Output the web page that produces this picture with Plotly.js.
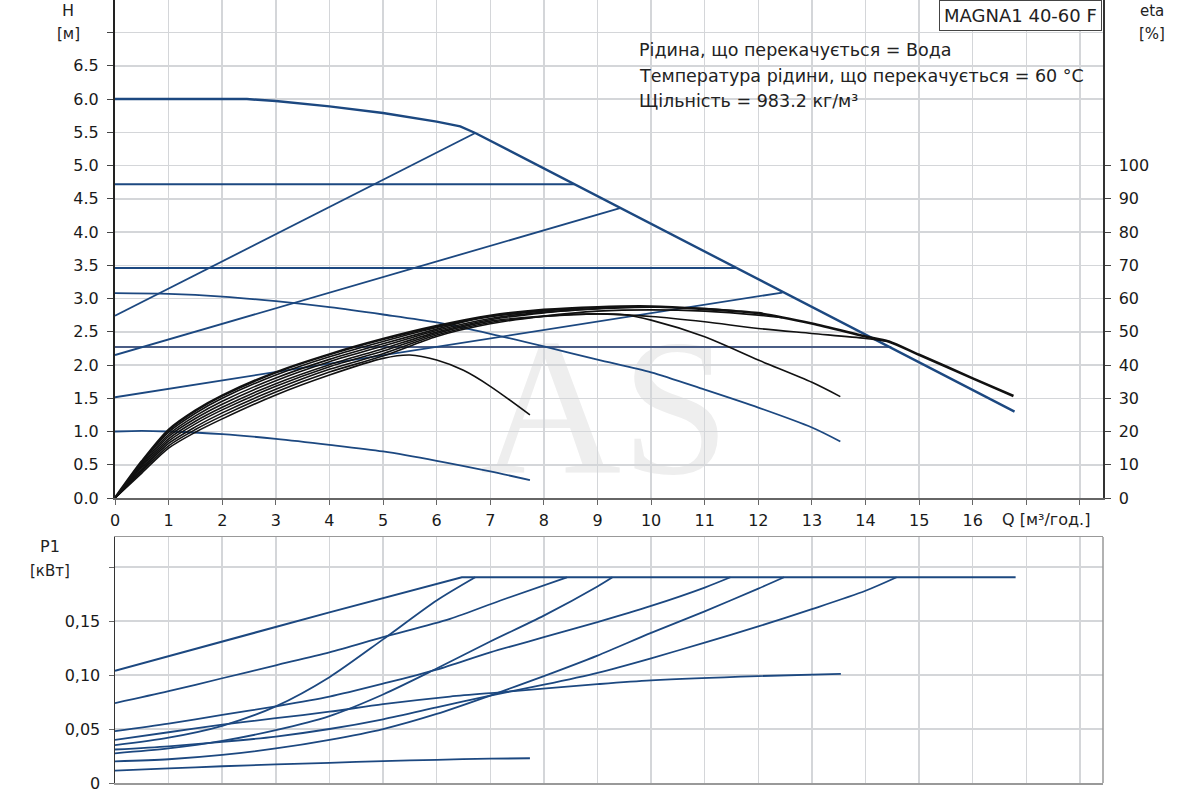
<!DOCTYPE html>
<html>
<head>
<meta charset="utf-8">
<script src="https://cdn.plot.ly/plotly-3.0.1.min.js"></script>
<style>
  html, body { margin: 0; padding: 0; background: #fff; }
  #chart { width: 1200px; height: 800px; }
</style>
</head>
<body>
<div id="chart"></div>
<script>
// ---- H [м] curves (blue) ----
const maxQ = [0, 2.46, 3, 4, 5, 5.32, 6, 6.44, 6.72, 16.78];
const maxH = [6.0, 6.0, 5.97, 5.89, 5.79, 5.75, 5.66, 5.59, 5.49, 1.30];

const cp1Q = [0, 8.57];   const cp1H = [4.72, 4.72];
const cp2Q = [0, 11.59];  const cp2H = [3.46, 3.46];
const cp3Q = [0, 14.48];  const cp3H = [2.27, 2.27];

const pp1Q = [0, 6.72];   const pp1H = [2.74, 5.49];
const pp2Q = [0, 9.42];   const pp2H = [2.15, 4.36];
const pp3Q = [0, 12.45];  const pp3H = [1.515, 3.09];

const cc1Q = [0, 1, 2, 3, 4, 5, 6, 7, 8, 9, 10, 11, 12, 13, 13.53];
const cc1H = [3.08, 3.07, 3.03, 2.96, 2.87, 2.76, 2.64, 2.47, 2.28, 2.08, 1.89, 1.63, 1.36, 1.06, 0.85];
const cc2Q = [0, 0.5, 1, 2, 3, 4, 5, 6, 7, 7.74];
const cc2H = [1.0, 1.01, 1.0, 0.96, 0.89, 0.80, 0.70, 0.56, 0.40, 0.27];

// ---- eta [%] curves (black) ----
const etaMaxQ = [0, 0.5, 1, 1.5, 2, 3, 4, 5, 6, 7, 8, 9, 10, 11, 12, 13, 14, 14.43, 15, 16, 16.76];
const etaMax  = [0, 11, 20.5, 26.3, 30.8, 37.8, 43.2, 47.8, 51.7, 54.8, 56.6, 57.4, 57.6, 56.8, 55.6, 52.5, 48.6, 47.1, 43.1, 36.0, 30.7];
const etaCp1Q = [0, 0.5, 1, 1.5, 2, 3, 4, 5, 6, 7, 8, 8.57];
const etaCp1  = [0, 10.6, 19.8, 25.5, 30.0, 37.0, 42.5, 47.1, 51.3, 54.5, 56.3, 56.9];
const etaPp1Q = [0, 0.5, 1, 1.5, 2, 3, 4, 5, 6, 6.72];
const etaPp1  = [0, 10.1, 19.1, 24.7, 29.1, 36.1, 41.7, 46.4, 50.8, 53.9];
const etaCp2Q = [0, 0.5, 1, 1.5, 2, 3, 4, 5, 6, 7, 8, 9, 10, 11, 11.59];
const etaCp2  = [0, 9.7, 18.5, 23.9, 28.2, 35.3, 41.0, 45.7, 50.4, 54.0, 55.9, 56.9, 57.4, 57.0, 56.3];
const etaPp2Q = [0, 0.5, 1, 1.5, 2, 3, 4, 5, 6, 7, 8, 9, 9.42];
const etaPp2  = [0, 9.3, 17.8, 23.1, 27.3, 34.4, 40.1, 44.9, 49.9, 53.6, 55.7, 57.0, 57.5];
const etaCc1Q = [0, 0.5, 1, 1.5, 2, 3, 4, 5, 6, 7, 8, 9, 9.5, 10, 11, 12, 13, 13.53];
const etaCc1  = [0, 8.8, 17.1, 22.3, 26.5, 33.6, 39.5, 44.2, 49.5, 53.2, 54.7, 55.4, 55.1, 53.5, 48.5, 41.5, 34.8, 30.5];
const etaCp3Q = [0, 0.5, 1, 1.5, 2, 3, 4, 5, 6, 7, 8, 9, 10, 11, 12, 13, 14, 14.48];
const etaCp3  = [0, 8.4, 16.4, 21.4, 25.6, 32.7, 38.7, 43.4, 49.0, 52.8, 54.6, 55.4, 54.6, 53.0, 51.0, 49.5, 48.0, 47.0];
const etaPp3Q = [0, 0.5, 1, 1.5, 2, 3, 4, 5, 6, 7, 8, 9, 10, 11, 12, 12.45];
const etaPp3  = [0, 8.0, 15.7, 20.6, 24.7, 31.9, 37.9, 42.7, 48.6, 52.4, 54.7, 56.2, 56.6, 56.2, 55.0, 54.2];
const etaCc2Q = [0, 0.5, 1, 1.5, 2, 3, 4, 5, 5.5, 6, 6.5, 7, 7.74];
const etaCc2  = [0, 7.5, 15, 19.8, 23.8, 31, 37, 42, 43, 41.5, 38.4, 33.6, 25];

// ---- P1 [кВт] curves (blue) ----
const pMaxQ = [0, 2, 4, 6.47, 16.8];
const pMax  = [0.104, 0.131, 0.158, 0.1905, 0.1905];
const pPp1Q = [0, 1, 2, 3, 4, 5, 6, 6.72];
const pPp1  = [0.035, 0.042, 0.053, 0.071, 0.098, 0.133, 0.169, 0.1905];
const pCp1Q = [0, 1, 2, 3, 4, 5, 6.25, 7.19, 8.43];
const pCp1  = [0.074, 0.085, 0.097, 0.109, 0.121, 0.135, 0.152, 0.169, 0.1905];
const pPp2Q = [0, 1, 2, 3, 4, 5, 6, 7, 8, 9, 9.28];
const pPp2  = [0.0275, 0.032, 0.039, 0.049, 0.062, 0.082, 0.106, 0.131, 0.155, 0.182, 0.1905];
const pCp2Q = [0, 1, 2, 3, 4, 5, 6, 7, 8, 9, 10, 11, 11.48];
const pCp2  = [0.048, 0.055, 0.063, 0.071, 0.080, 0.092, 0.105, 0.121, 0.135, 0.149, 0.164, 0.181, 0.1905];
const pPp3Q = [0, 1, 2, 3, 4, 5, 6, 7, 8, 9, 10, 11, 12, 12.48];
const pPp3  = [0.020, 0.022, 0.026, 0.032, 0.040, 0.050, 0.064, 0.081, 0.099, 0.118, 0.139, 0.159, 0.180, 0.1905];
const pCp3Q = [0, 1, 2, 3, 4, 5, 6, 7, 8, 9, 10, 11, 12, 13, 14, 14.58];
const pCp3  = [0.031, 0.034, 0.038, 0.043, 0.050, 0.059, 0.070, 0.081, 0.091, 0.102, 0.1155, 0.130, 0.145, 0.161, 0.178, 0.1905];
const pCc1Q = [0, 1, 2, 3, 4, 5, 6.25, 7.19, 9, 10, 12, 13.54];
const pCc1  = [0.040, 0.047, 0.054, 0.060, 0.066, 0.073, 0.080, 0.084, 0.0915, 0.095, 0.099, 0.101];
const pCc2Q = [0, 1, 2, 3, 4, 5, 6, 7, 7.74];
const pCc2  = [0.0114, 0.0135, 0.0155, 0.0172, 0.0187, 0.0203, 0.0215, 0.0225, 0.0229];

// ---- ticks / labels ----
const qTicks = [0, 1, 2, 3, 4, 5, 6, 7, 8, 9, 10, 11, 12, 13, 14, 15, 16, 17, 18];
const qLabels = ['0','1','2','3','4','5','6','7','8','9','10','11','12','13','14','15','16','',''];
const hTicks = [0, 0.5, 1, 1.5, 2, 2.5, 3, 3.5, 4, 4.5, 5, 5.5, 6, 6.5, 7];
const hLabels = ['0.0','0.5','1.0','1.5','2.0','2.5','3.0','3.5','4.0','4.5','5.0','5.5','6.0','6.5',''];
const etaTicks = [0, 10, 20, 30, 40, 50, 60, 70, 80, 90, 100];
const pTicks = [0, 0.05, 0.10, 0.15, 0.20];
const pLabels = ['0', '0,05', '0,10', '0,15', ''];
const infoLines = ['Рідина, що перекачується = Вода',
                   'Температура рідини, що перекачується = 60 °C',
                   'Щільність = 983.2 кг/м³'];

const BLUE = '#1c4880';
const FONT = 'DejaVu Sans, Verdana, sans-serif';

const W = 1200, H = 800, ML = 115, MR = 97, MT = 0, MB = 17;
const px = (x) => (x - ML) / (W - ML - MR);
const py = (y) => (H - MB - y) / (H - MT - MB);

const line = (x, y, xa, ya, color, width, shape) => ({
    x: x, y: y, xaxis: xa, yaxis: ya, type: 'scatter', mode: 'lines',
    line: { color: color, width: width, shape: shape || 'linear', smoothing: 0.8 },
    hoverinfo: 'skip', showlegend: false,
});

let series = [
    line(cp1Q, cp1H, 'x', 'y', BLUE, 2),
    line(cp2Q, cp2H, 'x', 'y', BLUE, 2),
    line(cp3Q, cp3H, 'x', 'y', '#4a5d85', 2),
    line(pp1Q, pp1H, 'x', 'y', BLUE, 1.8),
    line(pp2Q, pp2H, 'x', 'y', BLUE, 1.8),
    line(pp3Q, pp3H, 'x', 'y', BLUE, 1.8),
    line(cc1Q, cc1H, 'x', 'y', BLUE, 1.8, 'spline'),
    line(cc2Q, cc2H, 'x', 'y', BLUE, 1.8, 'spline'),
    line(maxQ, maxH, 'x', 'y', BLUE, 2.4),

    line(etaCc2Q, etaCc2, 'x', 'y2', '#111', 1.6, 'spline'),
    line(etaPp3Q, etaPp3, 'x', 'y2', '#111', 1.6, 'spline'),
    line(etaCp3Q, etaCp3, 'x', 'y2', '#111', 1.6, 'spline'),
    line(etaCc1Q, etaCc1, 'x', 'y2', '#111', 1.6, 'spline'),
    line(etaPp2Q, etaPp2, 'x', 'y2', '#111', 1.6, 'spline'),
    line(etaCp2Q, etaCp2, 'x', 'y2', '#111', 1.6, 'spline'),
    line(etaPp1Q, etaPp1, 'x', 'y2', '#111', 1.6, 'spline'),
    line(etaCp1Q, etaCp1, 'x', 'y2', '#111', 1.6, 'spline'),
    line(etaMaxQ, etaMax, 'x', 'y2', '#111', 2.6, 'spline'),

    line(pMaxQ, pMax, 'x2', 'y3', BLUE, 2),
    line(pPp1Q, pPp1, 'x2', 'y3', BLUE, 1.8, 'spline'),
    line(pCp1Q, pCp1, 'x2', 'y3', BLUE, 1.8, 'spline'),
    line(pPp2Q, pPp2, 'x2', 'y3', BLUE, 1.8, 'spline'),
    line(pCp2Q, pCp2, 'x2', 'y3', BLUE, 1.8, 'spline'),
    line(pPp3Q, pPp3, 'x2', 'y3', BLUE, 1.8, 'spline'),
    line(pCp3Q, pCp3, 'x2', 'y3', BLUE, 1.8, 'spline'),
    line(pCc1Q, pCc1, 'x2', 'y3', BLUE, 1.8, 'spline'),
    line(pCc2Q, pCc2, 'x2', 'y3', BLUE, 1.8, 'spline'),
];

const tickFont = { family: FONT, size: 16, color: '#1a1a1a' };
const GRID = '#d4d6d9';

const txt = (text, x, y, size, xanchor, extra) => Object.assign({
    text: text, xref: 'paper', yref: 'paper', x: px(x), y: py(y),
    xanchor: xanchor || 'center', yanchor: 'middle', showarrow: false,
    font: { family: FONT, size: size, color: '#222' },
}, extra || {});

let annotations = [
    txt('H', 68, 11, 16),
    txt('[м]', 68, 34, 15),
    txt('eta', 1152, 11, 15),
    txt('[%]', 1152, 34, 15),
    txt('Q [м³/год.]', 1000, 519, 16, 'left'),
    txt('P1', 50, 546, 16),
    txt('[кВт]', 50, 571, 15),
    txt('MAGNA1 40-60 F', 1102, 16, 18, 'right',
        { bgcolor: '#fff', bordercolor: '#444', borderwidth: 1, borderpad: 4 }),
];
infoLines.forEach((t, i) => annotations.push(txt(t, 637, 50 + i * 25.5, 17.5, 'left')));

let layout = {
    width: W, height: H,
    margin: { l: ML, r: MR, t: MT, b: MB, pad: 0 },
    paper_bgcolor: '#fff',
    plot_bgcolor: 'rgba(0,0,0,0)',
    showlegend: false,
    font: { family: FONT },
    xaxis: {
        domain: [0, 1], anchor: 'y', range: [0, 18.43],
        tickmode: 'array', tickvals: qTicks, ticktext: qLabels, tickfont: tickFont,
        showgrid: true, gridcolor: GRID, gridwidth: 1.5, zeroline: false,
        ticks: 'outside', ticklen: 5, tickcolor: '#666', ticklabelstandoff: 2,
        showline: true, linecolor: '#666', linewidth: 1.5, mirror: true,
    },
    yaxis: {
        domain: [py(498), 1], anchor: 'x', range: [0, 7.49],
        tickmode: 'array', tickvals: hTicks, ticktext: hLabels, tickfont: tickFont,
        showgrid: true, gridcolor: GRID, gridwidth: 1.5, zeroline: false,
        ticks: 'outside', ticklen: 6, tickcolor: '#444', ticklabelstandoff: 5,
        showline: true, linecolor: '#222', linewidth: 2,
    },
    yaxis2: {
        overlaying: 'y', side: 'right', anchor: 'x', range: [0, 149.8],
        tickmode: 'array', tickvals: etaTicks, tickfont: tickFont,
        showgrid: false, zeroline: false,
        ticks: 'outside', ticklen: 6, tickcolor: '#444', ticklabelstandoff: 5,
        showline: true, linecolor: '#333', linewidth: 1.5,
    },
    xaxis2: {
        domain: [0, 1], anchor: 'y3', range: [0, 18.43], matches: 'x',
        tickmode: 'array', tickvals: qTicks, showticklabels: false,
        showgrid: true, gridcolor: GRID, gridwidth: 1.5, zeroline: false,
        ticks: '', showline: true, linecolor: '#999', linewidth: 1.5, mirror: true,
    },
    yaxis3: {
        domain: [0, py(537)], anchor: 'x2', range: [0, 0.2278],
        tickmode: 'array', tickvals: pTicks, ticktext: pLabels, tickfont: tickFont,
        showgrid: true, gridcolor: GRID, gridwidth: 1.5, zeroline: false,
        ticks: 'outside', ticklen: 5, tickcolor: '#666', ticklabelstandoff: 5,
        showline: true, linecolor: '#333', linewidth: 1.5,
    },
    shapes: [
        // watermark behind the grid
        { type: 'rect', xref: 'paper', yref: 'paper', layer: 'below',
          x0: px(470), x1: px(740), y0: py(462), y1: py(310),
          line: { width: 0 }, fillcolor: 'rgba(0,0,0,0)',
          label: { text: 'AS', textposition: 'middle center',
                   font: { family: 'Liberation Serif, DejaVu Serif, serif', size: 195, color: '#eeeeee' } } },
        // right frame of the power plot
        { type: 'line', xref: 'paper', yref: 'paper', x0: 1, x1: 1, y0: 0, y1: py(537),
          line: { color: '#999', width: 1.5 } },
    ],
    annotations: annotations,
};

let config = { responsive: false, displayModeBar: false, staticPlot: true };
Plotly.newPlot('chart', series, layout, config);
</script>
</body>
</html>
